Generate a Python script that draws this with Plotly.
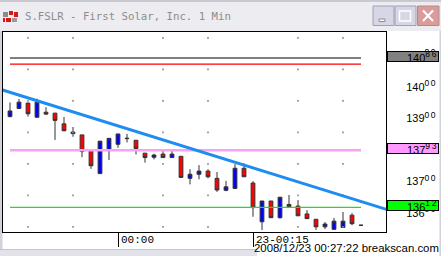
import plotly.graph_objects as go

W, H = 441, 256

# ---------------- data ----------------
times = ["23:48", "23:49", "23:50", "23:51", "23:52", "23:53", "23:54", "23:55",
         "23:56", "23:57", "23:58", "23:59", "00:00", "00:01", "00:02", "00:03",
         "00:04", "00:05", "00:06", "00:07", "00:08", "00:09", "00:10", "00:11",
         "00:12", "00:13", "00:14", "00:15", "00:16", "00:17", "00:18", "00:19",
         "00:20", "00:21", "00:22", "00:23", "00:24", "00:25", "00:26", "00:27"]
opens = [13900, 13926, 13943, 13898, 13914, 13911, 13877, 13846, 13842, 13792,
         13719, 13792, 13812, 13830, 13825, 13784, 13771, 13781, 13770, 13774,
         13704, 13717, 13727, 13704, 13666, 13672, 13736, 13689, 13566, 13632,
         13579, 13621, 13616, 13591, 13574, 13550, 13542, 13548, 13587, 13555]
highs = [13945, 13956, 13944, 13957, 13930, 13912, 13899, 13867, 13842, 13792,
         13823, 13831, 13845, 13845, 13825, 13784, 13782, 13797, 13797, 13774,
         13733, 13746, 13733, 13724, 13696, 13749, 13752, 13695, 13632, 13632,
         13644, 13651, 13635, 13603, 13574, 13565, 13578, 13597, 13593, 13555]
lows = [13898, 13926, 13900, 13897, 13905, 13826, 13855, 13836, 13771, 13734,
        13719, 13762, 13801, 13818, 13780, 13754, 13764, 13770, 13770, 13707,
        13685, 13701, 13704, 13661, 13663, 13672, 13709, 13582, 13540, 13579,
        13576, 13614, 13585, 13576, 13540, 13543, 13542, 13548, 13555, 13555]
closes = [13918, 13946, 13909, 13946, 13908, 13888, 13855, 13851, 13789, 13744,
          13822, 13831, 13845, 13831, 13799, 13770, 13778, 13770, 13781, 13707,
          13717, 13727, 13709, 13667, 13677, 13736, 13709, 13611, 13632, 13579,
          13644, 13614, 13585, 13576, 13550, 13559, 13568, 13568, 13560, 13555]

# horizontal levels (price)
level_names = ["upper_gray", "upper_red", "mid_pink", "low_green"]
level_values = [14086, 14067, 13793, 13612]

# trend line anchors (time, price)
trend_times = ["23:47", "00:30"]
trend_prices = [13986, 13604]

# y-axis tick values and x-axis tick times
y_ticks = [13600, 13700, 13800, 13900, 14000, 14100]
x_tick_times = ["00:00", "00:15"]
x_tick_labels = ["00:00", "23-00:15"]

# dotted grid positions
grid_times = ["23:50", "23:55", "00:05", "00:10", "00:20", "00:25"]
grid_prices = [14150, 14050, 13950, 13850, 13750, 13650, 13550]

title_text = "S.FSLR - First Solar, Inc. 1 Min"
footer_text = "2008/12/23 00:27:22 breakscan.com"


def to_min(t):
    h, m = map(int, t.split(":"))
    v = h * 60 + m
    return v - 1440 if h >= 12 else v


xs = [to_min(t) for t in times]


def px(x):
    return x / W


def py(y):
    return 1 - y / H


def ylab(v):
    s = str(v)
    return (f"{s[:3]}<sup><span style='font-size:8.5px;letter-spacing:1.6px'>"
            f"{s[3:]}</span></sup>")


fig = go.Figure()

# grid dots
gx, gy = [], []
for gt in grid_times:
    for gp in grid_prices:
        gx.append(to_min(gt))
        gy.append(gp)
fig.add_trace(go.Scatter(x=gx, y=gy, mode="markers",
                         marker=dict(symbol="square", size=1.6, color="#8a8a8a",
                                     line=dict(width=0)),
                         hoverinfo="skip", showlegend=False))

# horizontal level lines
level_styles = {
    "upper_gray": dict(color="#808080", width=2),
    "upper_red": dict(color="#FF0000", width=1.3),
    "mid_pink": dict(color="#F7A2F2", width=2.6),
    "low_green": dict(color="#22DD22", width=1.3),
}
for name, val in zip(level_names, level_values):
    fig.add_trace(go.Scatter(x=[xs[0], xs[-1]], y=[val, val], mode="lines",
                             line=level_styles[name], hoverinfo="skip",
                             showlegend=False))

# candles
fig.add_trace(go.Candlestick(
    x=xs, open=opens, high=highs, low=lows, close=closes,
    increasing=dict(fillcolor="#0000FF", line=dict(color="#333333", width=1)),
    decreasing=dict(fillcolor="#FF0000", line=dict(color="#333333", width=1)),
    whiskerwidth=0, hoverinfo="skip", showlegend=False))

# trend line
fig.add_trace(go.Scatter(x=[to_min(t) for t in trend_times], y=trend_prices,
                         mode="lines", line=dict(color="#1E8CF0", width=3),
                         hoverinfo="skip", showlegend=False))

x0, x1 = 3, 386
y0, y1 = 32, 232
xmin = xs[0] - (10 - x0) / 9.0
xmax = xs[0] + (x1 - 10) / 9.0
ymin = 13533.6
ymax = 14168.7

shapes = []
# title bar
shapes.append(dict(type="rect", xref="paper", yref="paper", x0=0, x1=1,
                   y0=py(31), y1=1, fillcolor="#ECECF1", line=dict(width=0), layer="below"))
shapes.append(dict(type="rect", xref="paper", yref="paper", x0=0, x1=1,
                   y0=py(2), y1=1, fillcolor="#C9C9D2", line=dict(width=0), layer="below"))
# left frame
shapes.append(dict(type="rect", xref="paper", yref="paper", x0=0, x1=px(2.5),
                   y0=0, y1=py(31), fillcolor="#D2D2DA", line=dict(width=0), layer="below"))
# right frame
shapes.append(dict(type="rect", xref="paper", yref="paper", x0=px(439.5), x1=1,
                   y0=0, y1=py(31), fillcolor="#D2D2DA", line=dict(width=0), layer="below"))
# bottom band
shapes.append(dict(type="rect", xref="paper", yref="paper", x0=0, x1=px(257),
                   y0=0, y1=py(249), fillcolor="#E2E2EA", line=dict(width=0), layer="below"))
shapes.append(dict(type="line", xref="paper", yref="paper", x0=0, x1=px(257),
                   y0=py(249.5), y1=py(249.5), line=dict(color="#C4C4CC", width=1), layer="below"))
# icon
icon = [(3, 12, 8, 17, "#8a8a8a"), (9, 11, 13, 15, "#D81818"), (14, 12, 18, 17, "#D81818"),
        (6, 18, 11, 22, "#D81818"), (12, 18, 17, 22, "#9a9a9a"), (3, 18, 5, 22, "#D81818")]
for a, b, c, d, col in icon:
    shapes.append(dict(type="rect", xref="paper", yref="paper", x0=px(a), x1=px(c),
                       y0=py(d), y1=py(b), fillcolor=col, line=dict(width=0)))
# window buttons
for bx0, bx1, fc, lc in [(373, 394, "#D6D6E4", "#A0A0B8"), (395, 416, "#D6D6E4", "#A0A0B8"),
                         (417.5, 439, "#D99C9A", "#B88888")]:
    shapes.append(dict(type="rect", xref="paper", yref="paper", x0=px(bx0), x1=px(bx1),
                       y0=py(25.5), y1=py(6), fillcolor=fc, line=dict(color=lc, width=1)))
shapes.append(dict(type="rect", xref="paper", yref="paper", x0=px(379), x1=px(385),
                   y0=py(21.5), y1=py(19), fillcolor="#FFFFFF", line=dict(color="#8888A0", width=1)))
shapes.append(dict(type="rect", xref="paper", yref="paper", x0=px(399.5), x1=px(410.5),
                   y0=py(21), y1=py(11), fillcolor="rgba(0,0,0,0)", line=dict(color="#FFFFFF", width=1.5)))
shapes.append(dict(type="line", xref="paper", yref="paper", x0=px(423), x1=px(433),
                   y0=py(10.5), y1=py(21), line=dict(color="#FFFFFF", width=2)))
shapes.append(dict(type="line", xref="paper", yref="paper", x0=px(423), x1=px(433),
                   y0=py(21), y1=py(10.5), line=dict(color="#FFFFFF", width=2)))

annotations = []
annotations.append(dict(text=title_text, xref="paper", yref="paper", x=px(22.5), y=py(16.5),
                        xanchor="left", yanchor="middle", showarrow=False,
                        font=dict(family="DejaVu Sans Mono", size=10.7, color="#8C8C8C")))
for tt, tl in zip(x_tick_times, x_tick_labels):
    annotations.append(dict(text=tl, x=to_min(tt), xref="x", yref="paper", y=py(239.5),
                            xanchor="left", yanchor="middle", xshift=1, showarrow=False,
                            font=dict(family="Liberation Mono", size=11, color="#000000")))
annotations.append(dict(text=footer_text, xref="paper", yref="paper", x=px(440.5), y=py(248),
                        xanchor="right", yanchor="middle", showarrow=False,
                        font=dict(family="Liberation Sans", size=11.4, color="#000000")))

box_styles = {"upper_gray": "#808080", "mid_pink": "#FF99FF", "low_green": "#00FF00"}
for name, val in zip(level_names, level_values):
    if name not in box_styles:
        continue
    annotations.append(dict(text=ylab(val), xref="paper", yref="y", x=px(387), y=val,
                            xanchor="left", yanchor="middle", yshift=2, showarrow=False,
                            bgcolor=box_styles[name], bordercolor="#000000", borderwidth=1,
                            borderpad=0, width=50, height=9, align="right",
                            font=dict(family="Liberation Sans", size=11, color="#000000")))

fig.update_layout(
    width=W, height=H, autosize=False,
    margin=dict(l=0, r=0, t=0, b=0, pad=0),
    paper_bgcolor="#FFFFFF", plot_bgcolor="#FFFFFF",
    showlegend=False, boxgap=0.4, hovermode=False,
    shapes=shapes, annotations=annotations,
    xaxis=dict(domain=[px(x0), px(x1)], range=[xmin, xmax], type="linear",
               showgrid=False, zeroline=False, showline=True, mirror=True,
               linecolor="#000000", linewidth=1,
               tickvals=[to_min(t) for t in x_tick_times], ticks="outside",
               ticklen=14, tickcolor="#000000", tickwidth=1, showticklabels=False,
               rangeslider=dict(visible=False), fixedrange=True),
    yaxis=dict(domain=[py(y1), py(y0)], range=[ymin, ymax], side="right",
               showgrid=False, zeroline=False, showline=True, mirror=True,
               linecolor="#000000", linewidth=1, ticks="",
               tickvals=y_ticks, ticktext=[ylab(v) for v in y_ticks],
               ticklabelstandoff=17, ticklabelshift=2,
               tickfont=dict(family="Liberation Sans", size=11, color="#000000"),
               fixedrange=True),
)

fig.write_html("out.html", config={"displayModeBar": False})
